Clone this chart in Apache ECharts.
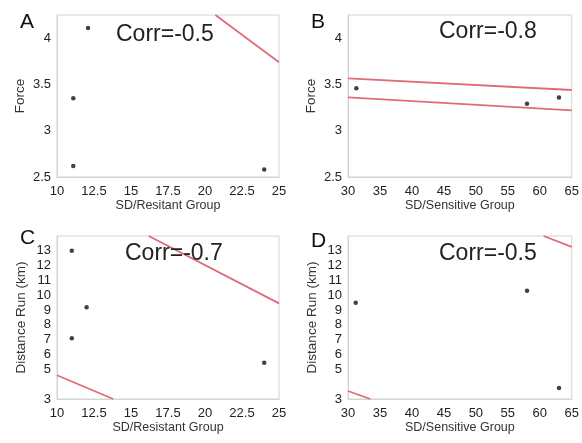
<!DOCTYPE html>
<html>
<head>
<meta charset="utf-8">
<script src="https://cdn.jsdelivr.net/npm/echarts@6/dist/echarts.min.js"></script>
<style>
  html, body { margin: 0; padding: 0; background: #fff; }
  #chart { width: 582px; height: 443px; }
</style>
</head>
<body>
<div id="chart"></div>
<script>
// scatter points, [x, y]
var pointsA = [[11.1, 3.35], [11.1, 2.62], [12.1, 4.11], [24, 2.58]];
var pointsB = [[31.3, 3.46], [58, 3.29], [63, 3.36]];
var pointsC = [[11, 13], [11, 7.1], [12, 9.2], [24, 5.45]];
var pointsD = [[31.2, 9.5], [58, 10.3], [63, 3.75]];

// red band lines, visible end points
var bandA = [[[20.7, 4.25], [25, 3.74]]];
var bandB = [[[30, 3.565], [65, 3.44]], [[30, 3.36], [65, 3.22]]];
var bandC = [[[16.2, 14], [25, 9.45]], [[10, 4.6], [13.8, 3]]];
var bandD = [[[60.6, 14], [65, 13.27]], [[30, 3.54], [33.5, 3]]];

var panelLetters = ['A', 'B', 'C', 'D'];
var corrLabels = ['Corr=-0.5', 'Corr=-0.8', 'Corr=-0.7', 'Corr=-0.5'];
var xNames = ['SD/Resitant Group', 'SD/Sensitive Group', 'SD/Resistant Group', 'SD/Sensitive Group'];
var yNames = ['Force', 'Force', 'Distance Run (km)', 'Distance Run (km)'];

var font = 'Liberation Sans, Arial, sans-serif';
var frameColor = '#d4d4d4';
var redColor = '#de6b78';

var grids = [
    {left: 57, top: 15, width: 222, height: 162},
    {left: 348, top: 15, width: 226, height: 162},
    {left: 57, top: 236, width: 222, height: 163},
    {left: 348, top: 236, width: 226, height: 163}
];
grids.forEach(function(g){
    g.show = true;
    g.borderColor = frameColor;
    g.borderWidth = 1;
    g.backgroundColor = 'transparent';
});

var xRanges = [[10, 25, 2.5], [30, 65, 5], [10, 25, 2.5], [30, 65, 5]];
var yRanges = [[2.5, 4.25, 0.5], [2.5, 4.25, 0.5], [3, 14, 1], [3, 14, 1]];

var xAxes = [], yAxes = [];
for (var i = 0; i < 4; i++) {
    xAxes.push({
        type: 'value', gridIndex: i,
        min: xRanges[i][0], max: xRanges[i][1], interval: xRanges[i][2],
        name: xNames[i], nameLocation: 'middle', nameGap: 20,
        nameTextStyle: {fontFamily: font, fontSize: 12.5, color: '#333'},
        axisLine: {lineStyle: {color: frameColor}},
        axisTick: {show: false},
        splitLine: {show: false},
        axisLabel: {fontFamily: font, fontSize: 13, color: '#222', margin: 8}
    });
    var big = i >= 2;
    yAxes.push({
        type: 'value', gridIndex: i,
        min: yRanges[i][0], max: yRanges[i][1], interval: yRanges[i][2],
        name: yNames[i], nameLocation: 'middle', nameGap: big ? 29 : 30,
        nameTextStyle: {fontFamily: font, fontSize: 13.5, color: '#333'},
        axisLine: {lineStyle: {color: frameColor}},
        axisTick: {show: false},
        splitLine: {show: false},
        axisLabel: {
            fontFamily: font, fontSize: 13, color: '#222', margin: 6,
            showMaxLabel: false,
            formatter: big ? function(v){ return (v === 4 || v === 14) ? '' : v; }
                           : function(v){ return v > 4.1 ? '' : v; }
        }
    });
}

var allPoints = [pointsA, pointsB, pointsC, pointsD];
var allBands = [bandA, bandB, bandC, bandD];
var series = [];
for (var k = 0; k < 4; k++) {
    allBands[k].forEach(function(seg){
        series.push({
            type: 'line', xAxisIndex: k, yAxisIndex: k,
            data: seg, symbol: 'none', silent: true,
            lineStyle: {color: redColor, width: 1.8}
        });
    });
    series.push({
        type: 'scatter', xAxisIndex: k, yAxisIndex: k,
        data: allPoints[k], symbolSize: 4.5,
        itemStyle: {color: '#111'}
    });
}

var letterPos = [[20, 12], [311, 12], [20, 228], [311, 231]];
var corrPos = [[116, 23], [439, 20], [125, 242], [439, 242]];
var titles = [];
for (var t = 0; t < 4; t++) {
    titles.push({
        text: panelLetters[t], left: letterPos[t][0], top: letterPos[t][1], padding: 0,
        textStyle: {fontFamily: font, fontSize: 21, fontWeight: 'normal', color: '#111'}
    });
    titles.push({
        text: corrLabels[t], left: corrPos[t][0], top: corrPos[t][1], padding: 0,
        textStyle: {fontFamily: font, fontSize: 23, fontWeight: 'normal', color: '#222'}
    });
}

var chart = echarts.init(document.getElementById('chart'), null, {renderer: 'canvas'});
chart.setOption({
    animation: false,
    backgroundColor: '#fff',
    title: titles,
    grid: grids,
    xAxis: xAxes,
    yAxis: yAxes,
    series: series
});
</script>
</body>
</html>
